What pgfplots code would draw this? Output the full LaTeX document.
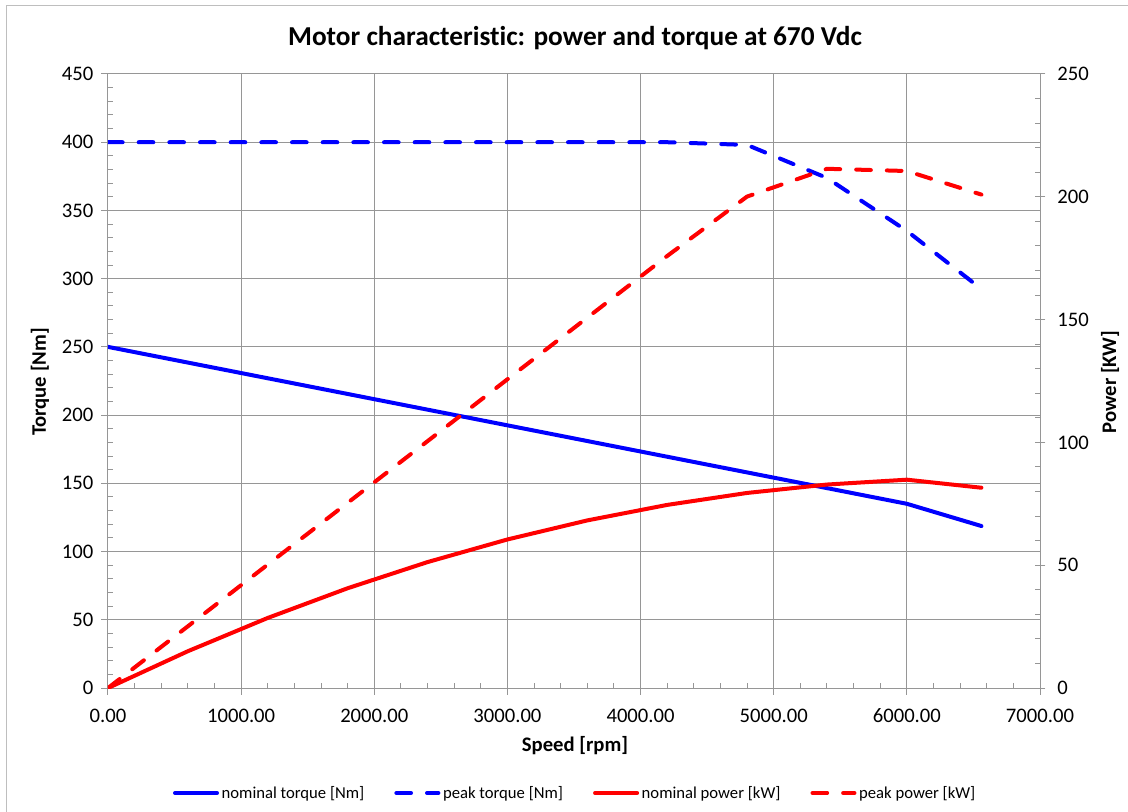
\documentclass[border=0pt]{standalone}
\usepackage{pgfplots}
\usepackage{pgfplotstable}
\pgfplotsset{compat=1.18}
\usepackage{fontspec}
\setmainfont{Carlito}[Ligatures=NoCommon]
\definecolor{gridgray}{RGB}{150,150,150}
\definecolor{framegray}{RGB}{190,190,190}

\pgfplotstableread{
rpm nomT peakT
0    250   400
600  238.5 400
1200 227   400
1800 215.5 400
2400 204   400
3000 192.5 400
3600 181   400
4200 169.5 400
4800 158   398
5400 146.5 373.8
6000 135   335
6560 118.7 292.4
}\torquedata

\pgfplotstableread{
rpm nomP peakP
0    0     0
600  14.98 25.13
1200 28.53 50.27
1800 40.62 75.40
2400 51.27 100.5
3000 60.48 125.7
3600 68.24 150.8
4200 74.55 175.9
4800 79.42 200.1
5400 82.84 211.4
6000 84.82 210.5
6560 81.54 200.9
}\powerdata

\begin{document}
\begin{tikzpicture}
\useasboundingbox (-81pt,-92.25pt) rectangle (765pt,516pt);
\draw[framegray, line width=0.75pt] (-75.75pt,-120pt) -- (-75.75pt,511.5pt) -- (820pt,511.5pt);

\begin{axis}[
  at={(0,0)}, anchor=south west,
  scale only axis, width=699pt, height=460.5pt,
  xmin=0, xmax=7000, ymin=0, ymax=450,
  xtick={0,1000,...,7000}, ytick={0,50,...,450},
  minor x tick num=4, minor y tick num=4,
  axis x line*=bottom, axis y line*=left,
  axis line style={gridgray, line width=0.75pt},
  grid=major, major grid style={gridgray, line width=0.75pt},
  tick align=inside,
  tick style={gridgray, line width=0.75pt},
  major tick length=5pt, minor tick length=4pt,
  major x tick style={yshift=-5pt},
  major y tick style={xshift=-5pt},
  scaled x ticks=false,
  /pgf/number format/assume math mode=true,
  tick label style={font=\fontsize{15.5}{18}\selectfont},
  x tick label style={yshift=-12pt, /pgf/number format/fixed, /pgf/number format/fixed zerofill, /pgf/number format/precision=2, /pgf/number format/1000 sep={}},
  y tick label style={xshift=-7.5pt, /pgf/number format/1000 sep={}},
]
\addplot[blue, line width=3pt, line cap=round, line join=round] table[x=rpm, y=nomT] {\torquedata};
\addplot[blue, line width=3pt, line cap=round, line join=round, dash pattern=on 11pt off 12pt] table[x=rpm, y=peakT] {\torquedata};
\end{axis}

\begin{axis}[
  at={(0,0)}, anchor=south west,
  scale only axis, width=699pt, height=460.5pt,
  xmin=0, xmax=7000, ymin=0, ymax=250,
  axis x line=none, axis y line*=right,
  ytick={0,50,...,250}, minor y tick num=4,
  axis line style={gridgray, line width=0.75pt},
  tick align=inside,
  tick style={gridgray, line width=0.75pt},
  major tick length=8pt, minor tick length=4pt,
  major y tick style={xshift=4pt},
  /pgf/number format/assume math mode=true,
  tick label style={font=\fontsize{15.5}{18}\selectfont},
  y tick label style={xshift=9.5pt},
  legend columns=4,
  legend style={at={(0.5016,-0.171)}, anchor=center, draw=none, fill=none,
    font=\fontsize{12.5}{15}\selectfont,
    /tikz/every even column/.append style={column sep=20.5pt}},
  legend image code/.code={\draw[#1] (0pt,0pt) -- (31.5pt,0pt);},
]
\addlegendimage{blue, line width=3pt, line cap=round}
\addlegendentry{nominal torque [Nm]}
\addlegendimage{blue, line width=3pt, line cap=round, dash pattern=on 11pt off 12pt}
\addlegendentry{peak torque [Nm]}
\addplot[red, line width=3pt, line cap=round, line join=round] table[x=rpm, y=nomP] {\powerdata};
\addlegendentry{nominal power [kW]}
\addplot[red, line width=3pt, line cap=round, line join=round, dash pattern=on 11pt off 12pt] table[x=rpm, y=peakP] {\powerdata};
\addlegendentry{peak power [kW]}
\end{axis}

\node[font=\bfseries\fontsize{20.5}{24}\selectfont] at (350.25pt,487.5pt) {Motor characteristic: power and torque at 670 Vdc};
\node[font=\bfseries\fontsize{15.5}{18}\selectfont, rotate=90] at (-51pt,229.5pt) {Torque [Nm]};
\node[font=\bfseries\fontsize{15.5}{18}\selectfont, rotate=90] at (751.5pt,229.5pt) {Power [KW]};
\node[font=\bfseries\fontsize{15.5}{18}\selectfont] at (350.25pt,-43.5pt) {Speed [rpm]};
\end{tikzpicture}
\end{document}
